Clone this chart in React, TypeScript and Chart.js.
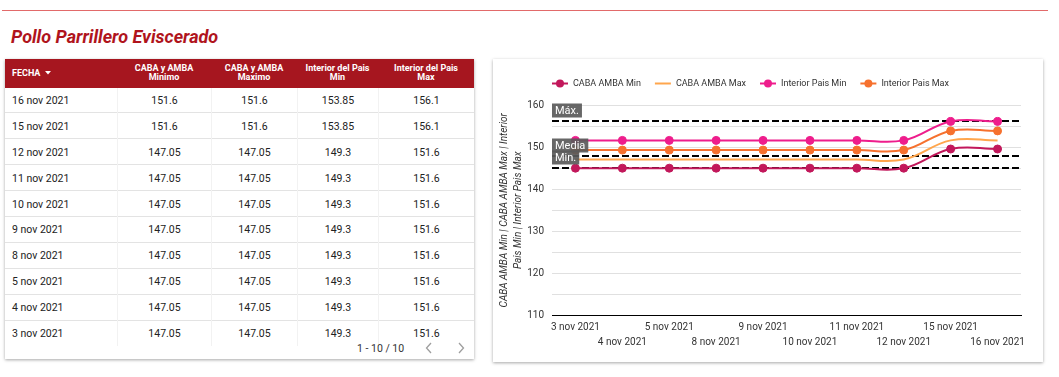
import React, { useEffect, useRef } from 'react';
import { Chart, registerables } from 'chart.js';

Chart.register(...registerables);

// ---------- Chart data ----------
const chartLabels = [
  '3 nov 2021', '4 nov 2021', '5 nov 2021', '8 nov 2021', '9 nov 2021',
  '10 nov 2021', '11 nov 2021', '12 nov 2021', '15 nov 2021', '16 nov 2021',
];
const cabaAmbaMin = [145, 145, 145, 145, 145, 145, 145, 145, 149.55, 149.55];
const cabaAmbaMax = [147.05, 147.05, 147.05, 147.05, 147.05, 147.05, 147.05, 147.05, 151.6, 151.6];
const interiorPaisMin = [151.6, 151.6, 151.6, 151.6, 151.6, 151.6, 151.6, 151.6, 156.1, 156.1];
const interiorPaisMax = [149.3, 149.3, 149.3, 149.3, 149.3, 149.3, 149.3, 149.3, 153.85, 153.85];
const seriesNames = ['CABA AMBA Min', 'CABA AMBA Max', 'Interior Pais Min', 'Interior Pais Max'];
const yTickLabels = [110, 120, 130, 140, 150, 160];
const refLabels = ['Máx.', 'Media', 'Min.'];
const refValues = [156.1, 147.96, 145];
const yTitle = ['CABA AMBA Min | CABA AMBA Max | Interior', 'Pais Min | Interior Pais Max'];

// ---------- Table data ----------
const tableDates = [
  '16 nov 2021', '15 nov 2021', '12 nov 2021', '11 nov 2021', '10 nov 2021',
  '9 nov 2021', '8 nov 2021', '5 nov 2021', '4 nov 2021', '3 nov 2021',
];
const tableCabaMinimo = [151.6, 151.6, 147.05, 147.05, 147.05, 147.05, 147.05, 147.05, 147.05, 147.05];
const tableCabaMaximo = [151.6, 151.6, 147.05, 147.05, 147.05, 147.05, 147.05, 147.05, 147.05, 147.05];
const tableInteriorMin = [153.85, 153.85, 149.3, 149.3, 149.3, 149.3, 149.3, 149.3, 149.3, 149.3];
const tableInteriorMax = [156.1, 156.1, 151.6, 151.6, 151.6, 151.6, 151.6, 151.6, 151.6, 151.6];
const tableHeaders = [
  ['CABA y AMBA', 'Minimo'],
  ['CABA y AMBA', 'Maximo'],
  ['Interior del Pais', 'Min'],
  ['Interior del Pais', 'Max'],
];

const COLORS = ['#c2185b', '#ffa64d', '#ee1d8c', '#f6712e'];
const FONT = 'Roboto, "Noto Sans", sans-serif';

const refLinesPlugin = {
  id: 'refLines',
  beforeDatasetsDraw(chart: any) {
    const { ctx, chartArea } = chart;
    const y = chart.scales.y;
    ctx.save();
    ctx.strokeStyle = '#000';
    ctx.lineWidth = 2;
    ctx.setLineDash([7, 3]);
    refValues.forEach((v) => {
      const py = Math.round(y.getPixelForValue(v));
      ctx.beginPath();
      ctx.moveTo(chartArea.left, py);
      ctx.lineTo(chartArea.right, py);
      ctx.stroke();
    });
    ctx.restore();
  },
  afterDatasetsDraw(chart: any) {
    const { ctx, chartArea } = chart;
    const y = chart.scales.y;
    ctx.save();
    ctx.font = `11px ${FONT}`;
    ctx.textBaseline = 'middle';
    ctx.textAlign = 'left';
    refValues.forEach((v, i) => {
      const py = Math.round(y.getPixelForValue(v));
      const w = ctx.measureText(refLabels[i]).width + 6;
      const h = 14;
      const top = py - 3.5 - h;
      ctx.fillStyle = 'rgba(90,90,90,0.92)';
      ctx.fillRect(chartArea.left, top, w, h);
      ctx.fillStyle = '#fff';
      ctx.fillText(refLabels[i], chartArea.left + 3, top + h / 2 + 0.5);
    });
    ctx.restore();
  },
};

const legendPlugin = {
  id: 'customLegend',
  afterDraw(chart: any) {
    const ctx = chart.ctx;
    ctx.save();
    ctx.font = `9px ${FONT}`;
    ctx.textBaseline = 'middle';
    ctx.textAlign = 'left';
    let x = 59;
    const y = 24.5;
    chart.data.datasets.forEach((ds: any) => {
      ctx.strokeStyle = ds.borderColor;
      ctx.lineWidth = 2;
      ctx.beginPath();
      ctx.moveTo(x, y);
      ctx.lineTo(x + 16, y);
      ctx.stroke();
      if (ds.pointRadius > 0) {
        ctx.fillStyle = ds.borderColor;
        ctx.beginPath();
        ctx.arc(x + 8, y, 4, 0, Math.PI * 2);
        ctx.fill();
      }
      ctx.fillStyle = '#333';
      ctx.fillText(ds.label, x + 21, y);
      x += 21 + ctx.measureText(ds.label).width + 14;
    });
    ctx.restore();
  },
};

function LineChart() {
  const ref = useRef<HTMLCanvasElement | null>(null);
  useEffect(() => {
    if (!ref.current) return;
    const seriesData = [cabaAmbaMin, cabaAmbaMax, interiorPaisMin, interiorPaisMax];
    const chart = new Chart(ref.current, {
      type: 'line',
      data: {
        labels: chartLabels,
        datasets: seriesData.map((d, i) => ({
          label: seriesNames[i],
          data: d,
          borderColor: COLORS[i],
          backgroundColor: COLORS[i],
          pointBackgroundColor: COLORS[i],
          pointBorderColor: COLORS[i],
          borderWidth: 2,
          pointRadius: i === 1 ? 0 : 4,
          pointBorderWidth: 1,
          tension: 0.4,
          fill: false,
        })),
      },
      options: {
        responsive: false,
        animation: false,
        layout: { padding: { top: 46, right: 22, left: 0, bottom: 0 } },
        plugins: { legend: { display: false }, tooltip: { enabled: false } },
        scales: {
          x: {
            type: 'category',
            offset: true,
            grid: { display: false, drawTicks: false },
            border: { display: true, color: '#000', width: 1 },
            ticks: {
              autoSkip: false,
              maxRotation: 0,
              minRotation: 0,
              padding: 4,
              color: '#333',
              font: { family: FONT, size: 10, lineHeight: 1.5 },
              callback: (_v: any, idx: number) =>
                idx % 2 === 0 ? chartLabels[idx] : ['', chartLabels[idx]],
            },
            afterFit: (s: any) => {
              s.height = 46.4;
            },
          },
          y: {
            min: 110,
            max: 160,
            grid: { color: '#e0e0e0', drawTicks: false },
            border: { display: false },
            ticks: {
              stepSize: 5,
              padding: 8,
              color: '#333',
              font: { family: FONT, size: 10 },
              callback: (v: any) => (yTickLabels.includes(Number(v)) ? String(v) : ''),
            },
            title: {
              display: true,
              text: yTitle,
              color: '#333',
              padding: { top: 5, bottom: 0 },
              font: { family: FONT, size: 10, style: 'italic', lineHeight: 1.35 },
            },
            afterFit: (s: any) => {
              s.width = 59;
            },
          },
        },
      },
      plugins: [refLinesPlugin, legendPlugin],
    } as any);
    return () => chart.destroy();
  }, []);
  return <canvas ref={ref} width={550} height={303} style={{ display: 'block' }} />;
}

const colEdges = [0, 112, 206, 292, 373, 469];

function DataTable() {
  const rowH = 25.9;
  const headH = 28.5;
  return (
    <div
      style={{
        position: 'absolute', left: 5, top: 59, width: 469, height: 300,
        background: '#fff', boxShadow: '0 1px 3px rgba(0,0,0,0.35)', overflow: 'hidden',
        fontFamily: FONT,
      }}
    >
      <div style={{ position: 'absolute', left: 0, top: 0, width: 469, height: headH, background: '#a6161f' }}>
        <div style={{ position: 'absolute', left: 7, top: 0, height: headH, display: 'flex', alignItems: 'center', color: '#fff', fontSize: 9, fontWeight: 700 }}>
          FECHA
          <svg width="6" height="4" style={{ marginLeft: 5 }}>
            <polygon points="0,0 6,0 3,3.5" fill="#fff" />
          </svg>
        </div>
        {tableHeaders.map((h, i) => (
          <div
            key={i}
            style={{
              position: 'absolute', left: colEdges[i + 1], width: colEdges[i + 2] - colEdges[i + 1], top: 0, height: headH,
              display: 'flex', flexDirection: 'column', justifyContent: 'center', alignItems: 'center',
              color: '#fff', fontSize: 9, fontWeight: 700, lineHeight: '9.5px', textAlign: 'center',
            }}
          >
            <div>{h[0]}</div>
            <div>{h[1]}</div>
          </div>
        ))}
      </div>
      {tableDates.map((d, r) => {
        const vals = [tableCabaMinimo[r], tableCabaMaximo[r], tableInteriorMin[r], tableInteriorMax[r]];
        const top = headH + r * rowH;
        return (
          <div key={r} style={{ position: 'absolute', left: 0, top, width: 469, height: rowH, borderBottom: r < 9 ? '1px solid #e3e3e3' : 'none', boxSizing: 'border-box' }}>
            <div style={{ position: 'absolute', left: 7, top: 0, height: rowH, display: 'flex', alignItems: 'center', fontSize: 10.5, color: '#222' }}>{d}</div>
            {vals.map((v, c) => (
              <div
                key={c}
                style={{
                  position: 'absolute', left: colEdges[c + 1], width: colEdges[c + 2] - colEdges[c + 1], top: 0, height: rowH,
                  display: 'flex', alignItems: 'center', justifyContent: 'center', fontSize: 10.5, color: '#222',
                  borderLeft: '1px solid #f2f2f2', boxSizing: 'border-box',
                }}
              >
                {String(v)}
              </div>
            ))}
          </div>
        );
      })}
      <div style={{ position: 'absolute', left: 352, top: 281, height: 16, display: 'flex', alignItems: 'center', fontSize: 10.5, color: '#333' }}>
        1 - 10 / 10
      </div>
      <svg width="8" height="12" style={{ position: 'absolute', left: 420, top: 283 }}>
        <polyline points="6,1 1.5,6 6,11" fill="none" stroke="#9e9e9e" strokeWidth="1.3" />
      </svg>
      <svg width="8" height="12" style={{ position: 'absolute', left: 452, top: 283 }}>
        <polyline points="2,1 6.5,6 2,11" fill="none" stroke="#9e9e9e" strokeWidth="1.3" />
      </svg>
    </div>
  );
}

export default function App() {
  return (
    <div style={{ position: 'absolute', left: 0, top: 0, width: 1059, height: 377, background: '#fff', overflow: 'hidden', fontFamily: FONT }}>
      <div style={{ position: 'absolute', left: 2, top: 10, width: 1046, height: 1, background: '#e26a6a' }} />
      <div style={{ position: 'absolute', left: 11, top: 26, fontSize: 18, fontWeight: 700, fontStyle: 'italic', color: '#b0141c', lineHeight: '22px' }}>
        Pollo Parrillero Eviscerado
      </div>
      <DataTable />
      <div style={{ position: 'absolute', left: 493, top: 59, width: 550, height: 303, background: '#fff', boxShadow: '0 1px 3px rgba(0,0,0,0.35)' }}>
        <LineChart />
      </div>
    </div>
  );
}
